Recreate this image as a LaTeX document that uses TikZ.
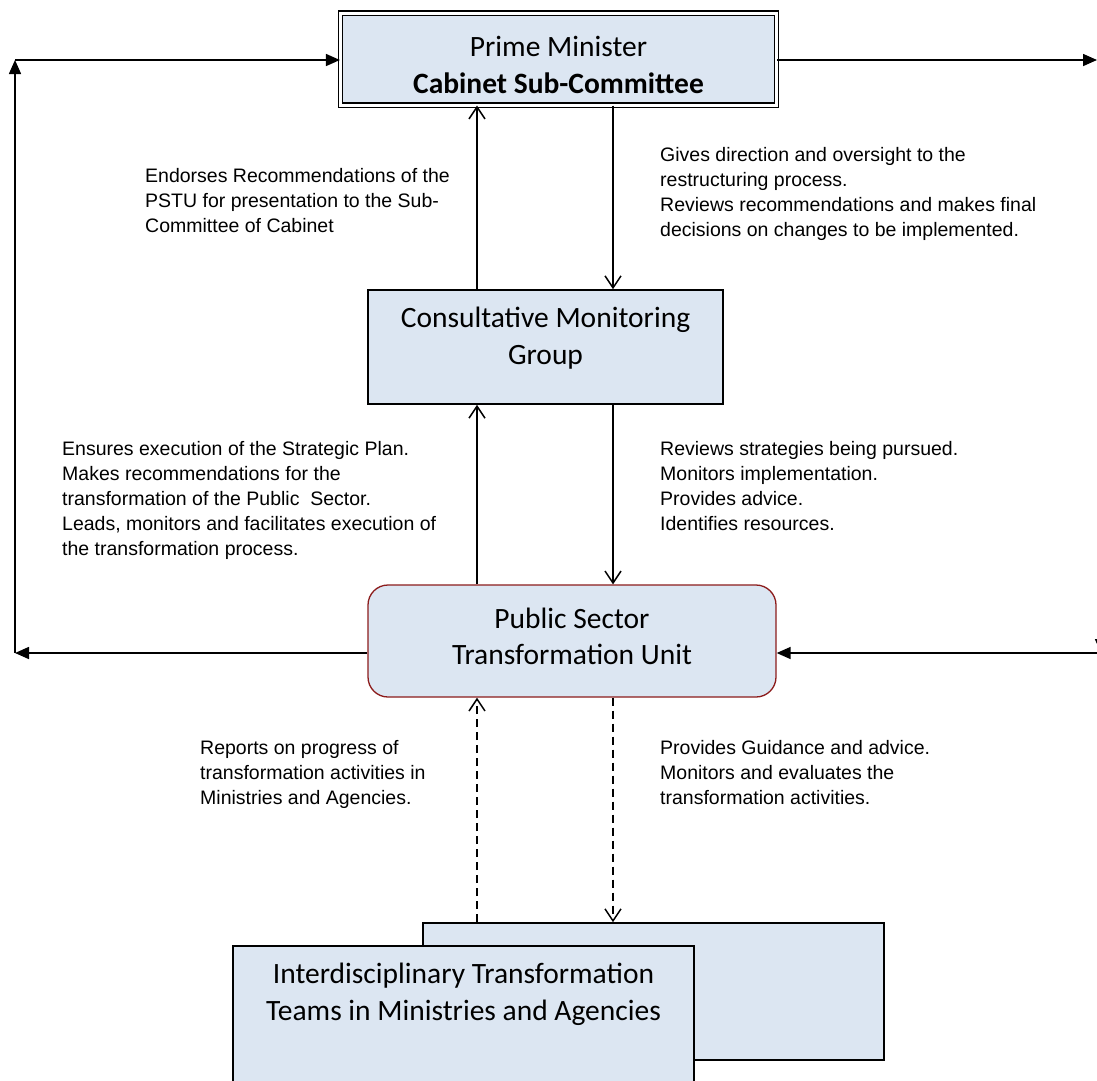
\documentclass[tikz,border=0pt]{standalone}
\usepackage{fontspec}
\setmainfont{Liberation Sans}
\newfontfamily\calib{Carlito}
\usetikzlibrary{arrows.meta}
\definecolor{boxblue}{HTML}{DCE6F2}
\definecolor{darkred}{RGB}{140,28,28}
\begin{document}
\begin{tikzpicture}[x=1pt,y=-1pt,
  boxstyle/.style={draw=black, fill=boxblue, line width=1.6pt, inner sep=0pt},
  boxtext/.style={font=\calib\fontsize{29.5}{36.5}\selectfont, align=center, inner sep=0pt},
  sidetext/.style={font=\fontsize{19.5}{24.9}\selectfont, align=left, anchor=north west, inner sep=0pt},
  conn/.style={line width=1.6pt},
  openarrow/.style={conn, -{Straight Barb[length=12pt,width=16pt,line width=1.5pt]}},
  filledarrow/.style={conn, -{Triangle[length=14pt,width=12pt]}},
  dashconn/.style={openarrow, dash pattern=on 8pt off 5pt}
]
\useasboundingbox (0,0) rectangle (1097,1080);

% boxes
\node[boxstyle, double, double distance=3pt, line width=1.2pt, minimum width=436pt, minimum height=92pt] (top) at (558.5,59) {};
\node[boxtext] (toptxt) at (558.5,65) {Prime Minister\\\textbf{Cabinet Sub-Committee}};
\node[boxstyle, minimum width=355pt, minimum height=114pt] (cmg) at (545.5,347) {};
\node[boxtext] (cmgtxt) at (545.5,338) {Consultative Monitoring\\Group};
\node[boxstyle, draw=darkred, line width=1.3pt, rounded corners=20pt, minimum width=408pt, minimum height=112pt] (psu) at (572,641) {};
\node[boxtext] (psutxt) at (572,636.5) {Public Sector\\Transformation Unit};
\node[boxstyle, minimum width=461pt, minimum height=137pt] (back) at (653.5,991.5) {};
\node[boxstyle, minimum width=461pt, minimum height=150pt] (front) at (463.5,1021) {};
\node[boxtext] (fronttxt) at (463.5,994.5)
  {Interdisciplinary Transformation\\Teams in Ministries and Agencies};

% helper coordinates
\coordinate (xl) at (477,0);
\coordinate (xr) at (613,0);
\coordinate (L1) at (15,653);
\coordinate (L2) at (15,60);
\coordinate (R1) at (1097,60);
\coordinate (R2) at (1101,60);
\coordinate (R3) at (1101,653);
\coordinate (R4) at (1097,653);

% vertical connectors
\draw[openarrow] (cmg.north -| xl) -- (top.south -| xl);
\draw[openarrow] (top.south -| xr) -- (cmg.north -| xr);
\draw[openarrow] (psu.north -| xl) -- (cmg.south -| xl);
\draw[openarrow] (cmg.south -| xr) -- (psu.north -| xr);
\draw[dashconn] (back.north -| xl) -- (psu.south -| xl);
\draw[dashconn] (psu.south -| xr) -- (back.north -| xr);

% outer loop connectors
\draw[filledarrow] (psu.west |- L1) -- (L1);
\draw[filledarrow] (L1) -- (L2);
\draw[filledarrow] (L2) -- (top.west |- L2);
\draw[filledarrow] (top.east |- R1) -- (R1);
\draw[filledarrow] (R2) -- (R3);
\draw[filledarrow] (R4) -- (psu.east |- R4);

% side texts
\node[sidetext] (t1) at (145,168.5) {Endorses Recommendations of the\\PSTU for presentation to the Sub-\\Committee of Cabinet};
\node[sidetext] (t2) at (660,147.5) {Gives direction and oversight to the\\restructuring process.\\Reviews recommendations and makes final\\decisions on changes to be implemented.};
\node[sidetext] (t3) at (62,441.5) {Ensures execution of the Strategic Plan.\\Makes recommendations for the\\transformation of the Public\ \ Sector.\\Leads, monitors and facilitates execution of\\the transformation process.};
\node[sidetext] (t4) at (660,441.5) {Reviews strategies being pursued.\\Monitors implementation.\\Provides advice.\\Identifies resources.};
\node[sidetext] (t5) at (200,740.5) {Reports on progress of\\transformation activities in\\Ministries and Agencies.};
\node[sidetext] (t6) at (660,740.5) {Provides Guidance and advice.\\Monitors and evaluates the\\transformation activities.};
\end{tikzpicture}
\end{document}
